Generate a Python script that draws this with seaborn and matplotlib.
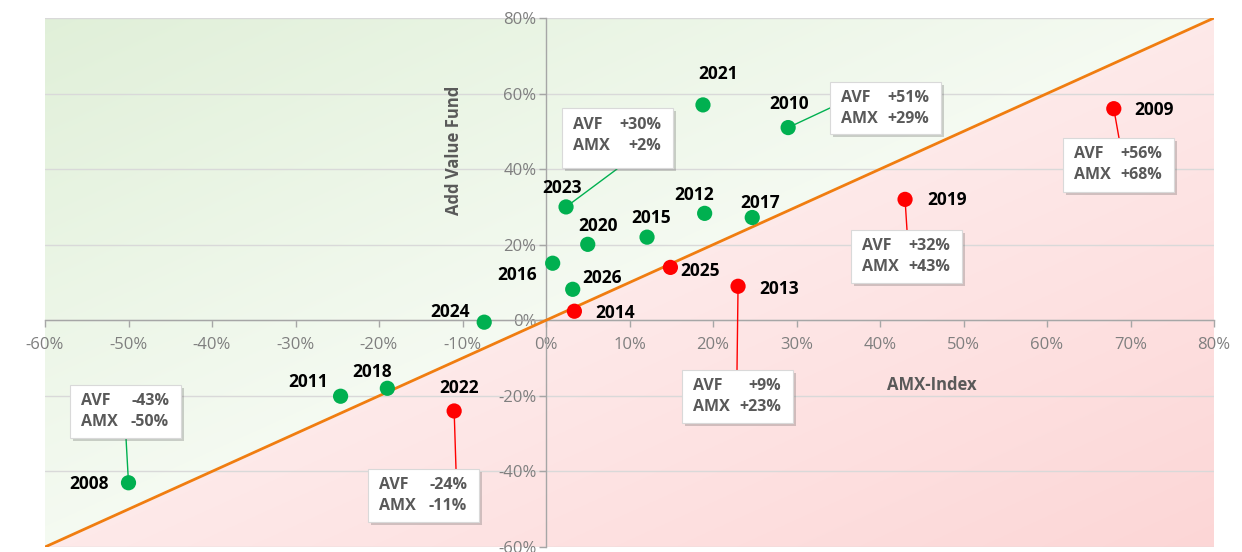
import numpy as np
import pandas as pd
import matplotlib.pyplot as plt
import matplotlib.patheffects as pe
from matplotlib.patches import Rectangle
from matplotlib.ticker import FuncFormatter, MultipleLocator
import seaborn as sns

# yearly returns in %
years = [2008, 2009, 2010, 2011, 2012, 2013, 2014, 2015, 2016, 2017,
         2018, 2019, 2020, 2021, 2022, 2023, 2024, 2025, 2026]
amx = [-50, 68, 29, -24.6, 19, 23, 3.4, 12.1, 0.8, 24.7,
       -19, 43, 5.0, 18.8, -11, 2.4, -7.4, 14.9, 3.2]
avf = [-43, 56, 51, -20.1, 28.3, 9, 2.4, 22, 15.1, 27.2,
       -18, 32, 20.1, 57, -24, 30, -0.5, 14.0, 8.2]

# years that get a value box
boxed_years = [2008, 2009, 2010, 2013, 2019, 2022, 2023]

df = pd.DataFrame({'year': years, 'amx': amx, 'avf': avf})
df['beat'] = df['avf'] > df['amx']

GREEN = '#00b050'
RED = '#ff0000'
ORANGE = '#f07d10'
GREY = '#7f7f7f'
DARK = '#595959'

# label offsets in pixels (dx, dy)
label_off = {
    2008: (-39, -1), 2009: (40, -1), 2010: (1, 24), 2011: (-32, 14),
    2012: (-11, 18), 2013: (41, -3), 2014: (41, -2), 2015: (4, 19),
    2016: (-36, -12), 2017: (8, 15), 2018: (-15, 16), 2019: (42, -1),
    2020: (10, 18), 2021: (15, 31), 2022: (5, 23), 2023: (-4, 19),
    2024: (-34, 10), 2025: (30, -4), 2026: (29, 11),
}
# box: top-left corner in figure pixels, height px, connector end px
box_layout = {
    2023: ((562, 108), 60, (617, 169)),
    2010: ((830, 82), 52, (830, 108)),
    2009: ((1063, 138), 54, (1119, 138)),
    2019: ((851, 230), 53, (907, 230)),
    2013: ((682, 370), 53, (737, 370)),
    2022: ((368, 469), 53, (456, 469)),
    2008: ((70, 385), 53, (126, 438)),
}
BOX_W = 111

sns.set_style('white')
plt.rcParams['font.family'] = ['Open Sans', 'DejaVu Sans']

W, H = 1242, 552
fig = plt.figure(figsize=(W / 100, H / 100), dpi=100)
ax = fig.add_axes([45 / W, (H - 547) / H, (1214 - 45) / W, (547 - 18) / H])
ax.set_xlim(-60, 80)
ax.set_ylim(-60, 80)


def px2data(px, py):
    # figure pixel (from top-left) -> data coords
    inv = ax.transData.inverted()
    return inv.transform((px, H - py))


# background gradient split by the diagonal
gx, gy = np.meshgrid(np.linspace(-60, 80, 400), np.linspace(-60, 80, 400))
d = (gy - gx) / 140
g_light, g_strong = np.array([0.96, 0.982, 0.948]), np.array([0.88, 0.94, 0.85])
r_light, r_strong = np.array([0.996, 0.915, 0.915]), np.array([0.99, 0.84, 0.84])
img = np.zeros(gx.shape + (3,))
pos = d >= 0
t = np.clip(d, 0, 1)[..., None]
img[pos] = (g_light + t * (g_strong - g_light))[pos]
t = np.clip(-d, 0, 1)[..., None]
img[~pos] = (r_light + t * (r_strong - r_light))[~pos]
ax.imshow(img, extent=(-60, 80, -60, 80), origin='lower', aspect='auto', zorder=0)

ax.plot([-60, 80], [-60, 80], color=ORANGE, lw=2, zorder=3)

sns.scatterplot(data=df, x='amx', y='avf', hue='beat',
                palette={True: GREEN, False: RED}, s=120, linewidth=0,
                legend=False, zorder=6, ax=ax)

for _, r in df.iterrows():
    dx, dy = label_off[r['year']]
    ax.annotate(str(int(r['year'])), (r['amx'], r['avf']), xytext=(dx, dy),
                textcoords='offset pixels', ha='center', va='center',
                fontsize=12.5, fontweight='bold', color='black', zorder=7)

# value boxes
for yr in boxed_years:
    r = df[df['year'] == yr].iloc[0]
    (bx, by), bh, (cx, cy) = box_layout[yr]
    col = GREEN if r['beat'] else RED
    ex, ey = px2data(cx, cy)
    ax.plot([r['amx'], ex], [r['avf'], ey], color=col, lw=1, zorder=4)
    x0, y1 = px2data(bx, by)
    x1, y0 = px2data(bx + BOX_W, by + bh)
    rect = Rectangle((x0, y0), x1 - x0, y1 - y0, facecolor='white',
                     edgecolor='#d9d9d9', lw=0.8, zorder=8)
    rect.set_path_effects([pe.SimplePatchShadow(offset=(2, -2), alpha=0.25),
                           pe.Normal()])
    ax.add_patch(rect)
    top = -17 if bh > 58 else -16
    rows = [('AVF', r['avf']), ('AMX', r['amx'])]
    for i, (name, v) in enumerate(rows):
        oy = top - 21 * i
        ax.annotate(name, (x0, y1), xytext=(11, oy), textcoords='offset pixels',
                    ha='left', va='center', fontsize=11.5, fontweight='bold',
                    color=DARK, zorder=9)
        ax.annotate(f'{v:+.0f}%', (x1, y1), xytext=(-12, oy),
                    textcoords='offset pixels', ha='right', va='center',
                    fontsize=11.5, fontweight='bold', color=DARK, zorder=9)

# axes styling
for s in ['top', 'right']:
    ax.spines[s].set_visible(False)
ax.spines['left'].set_position(('data', 0))
ax.spines['bottom'].set_position(('data', 0))
for s in ['left', 'bottom']:
    ax.spines[s].set_color('#a6a6a6')
    ax.spines[s].set_linewidth(1)
    ax.spines[s].set_zorder(2)
ax.xaxis.set_major_locator(MultipleLocator(10))
ax.yaxis.set_major_locator(MultipleLocator(20))
pct = FuncFormatter(lambda v, p: f'{v:.0f}%')
ax.xaxis.set_major_formatter(pct)
ax.yaxis.set_major_formatter(pct)
ax.tick_params(axis='both', colors='#a6a6a6', labelcolor=GREY, labelsize=12,
               length=5, width=1, direction='out', bottom=True, left=True)
ax.tick_params(axis='x', pad=7)
ax.tick_params(axis='y', pad=2)
ax.yaxis.grid(True, color='#d9d9d9', lw=1, zorder=1)
ax.xaxis.grid(False)
ax.set_axisbelow(True)

ax.set_xlabel('AMX-Index', fontsize=12, fontweight='bold', color=DARK)
ax.set_ylabel('Add Value Fund', fontsize=12, fontweight='bold', color=DARK)
ax.xaxis.set_label_coords((932 - 45) / 1169, (547 - 376) / 529)
ax.yaxis.set_label_coords((463 - 45) / 1169, (547 - 150) / 529)

fig.savefig('out.png', dpi=100)
